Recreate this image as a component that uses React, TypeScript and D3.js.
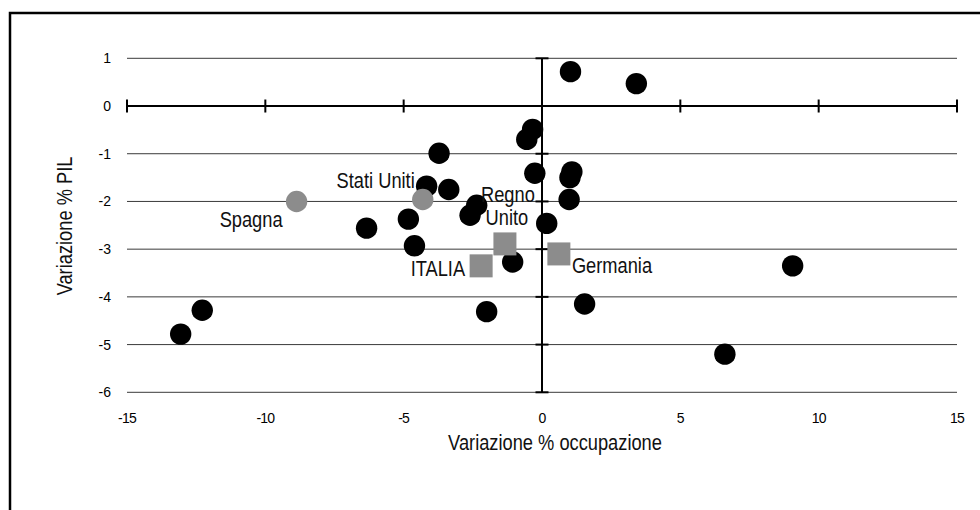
import React from "react";
import * as d3 from "d3";

// Data: variazione % occupazione (x) vs variazione % PIL (y)
const blackX = [1.03, 3.41, -0.34, -0.55, -3.72, -0.26, 1.08, 1.01, 0.98, -4.17, -3.37, -2.36, -2.6, -4.83, 0.17, -4.61, -1.06, -2.0, 1.54, -6.34, -12.28, -13.06, 9.06, 6.61];
const blackY = [0.72, 0.47, -0.49, -0.7, -0.99, -1.41, -1.38, -1.5, -1.96, -1.68, -1.75, -2.08, -2.29, -2.37, -2.46, -2.93, -3.27, -4.31, -4.15, -2.56, -4.28, -4.78, -3.35, -5.2];

const grayCircleNames = ["Spagna", "Stati Uniti"];
const grayCircleX = [-8.87, -4.31];
const grayCircleY = [-2.0, -1.96];

const squareNames = ["Regno Unito", "ITALIA", "Germania"];
const squareX = [-1.34, -2.2, 0.61];
const squareY = [-2.89, -3.35, -3.1];

const xTicks = [-15, -10, -5, 0, 5, 10, 15];
const yTicks = [1, 0, -1, -2, -3, -4, -5, -6];

const xTitle = "Variazione % occupazione";
const yTitle = "Variazione % PIL";

const W = 980;
const H = 510;
const SANS = '"Liberation Sans", Arial, sans-serif';
const GRAY = "#8c8c8c";

function NText(props: { x: number; y: number; anchor?: string; rotate?: number; children: React.ReactNode }) {
  const { x, y, anchor = "start", rotate = 0, children } = props;
  return (
    <text
      transform={`translate(${x},${y}) rotate(${rotate}) scale(0.85,1)`}
      textAnchor={anchor}
      fontFamily={SANS}
      fontSize={21.5}
      fill="#111"
    >
      {children}
    </text>
  );
}

export default function App() {
  const x = d3.scaleLinear().domain([-15, 15]).range([127, 957]);
  const y = d3.scaleLinear().domain([1, -6]).range([58.3, 392.3]);
  const r = 10.7;
  const sq = 23;

  // label placement (pixel offsets from their marker)
  const circleLabelPos = [
    { dx: -14, dy: 26, anchor: "end" },
    { dx: -8, dy: -12, anchor: "end" },
  ];

  return (
    <svg width={W} height={H} style={{ position: "absolute", left: 0, top: 0, background: "#fff" }}>
      <rect x={0} y={0} width={W} height={H} fill="#fff" />
      <rect x={10} y={13} width={1200} height={800} fill="none" stroke="#000" strokeWidth={2.5} />

      {/* gridlines */}
      {yTicks.filter((t) => t !== 0).map((t) => (
        <line key={"g" + t} x1={x(-15)} x2={x(15)} y1={y(t)} y2={y(t)} stroke="#3a3a3a" strokeWidth={1} />
      ))}

      {/* x axis */}
      <line x1={x(-15)} x2={x(15)} y1={y(0)} y2={y(0)} stroke="#000" strokeWidth={2} />
      {xTicks.map((t) => (
        <line key={"xt" + t} x1={x(t)} x2={x(t)} y1={y(0) - 6.5} y2={y(0) + 6.5} stroke="#000" strokeWidth={2} />
      ))}
      {/* y axis */}
      <line x1={x(0)} x2={x(0)} y1={y(1)} y2={y(-6)} stroke="#000" strokeWidth={2} />
      {yTicks.map((t) => (
        <line key={"yt" + t} x1={x(0) - 6.5} x2={x(0) + 6.5} y1={y(t)} y2={y(t)} stroke="#000" strokeWidth={2} />
      ))}

      {/* tick labels */}
      {yTicks.map((t) => (
        <text key={"yl" + t} x={111} y={y(t) + 5} textAnchor="end" fontFamily={SANS} fontSize={14} fill="#000">
          {t}
        </text>
      ))}
      {xTicks.map((t) => (
        <text key={"xl" + t} x={x(t)} y={423} textAnchor="middle" fontFamily={SANS} fontSize={14} letterSpacing={-0.8} fill="#000">
          {t}
        </text>
      ))}

      {/* axis titles */}
      <NText x={555} y={450} anchor="middle">{xTitle}</NText>
      <NText x={72} y={226} anchor="middle" rotate={-90}>{yTitle}</NText>

      {/* black points */}
      {blackX.map((v, i) => (
        <circle key={"b" + i} cx={x(v)} cy={y(blackY[i])} r={r} fill="#000" />
      ))}

      {/* gray circles */}
      {grayCircleX.map((v, i) => (
        <g key={"gc" + i}>
          <circle cx={x(v)} cy={y(grayCircleY[i])} r={r} fill={GRAY} />
          <NText x={x(v) + circleLabelPos[i].dx} y={y(grayCircleY[i]) + circleLabelPos[i].dy} anchor={circleLabelPos[i].anchor}>
            {grayCircleNames[i]}
          </NText>
        </g>
      ))}

      {/* squares */}
      {squareX.map((v, i) => (
        <rect key={"s" + i} x={x(v) - sq / 2} y={y(squareY[i]) - sq / 2} width={sq} height={sq} fill={GRAY} />
      ))}
      {/* square labels */}
      <NText x={x(squareX[0]) + 3} y={y(squareY[0]) - 42} anchor="middle">{squareNames[0].split(" ")[0]}</NText>
      <NText x={x(squareX[0]) + 2} y={y(squareY[0]) - 19} anchor="middle">{squareNames[0].split(" ")[1]}</NText>
      <NText x={x(squareX[1]) - 16} y={y(squareY[1]) + 10} anchor="end">{squareNames[1]}</NText>
      <NText x={x(squareX[2]) + 13} y={y(squareY[2]) + 19} anchor="start">{squareNames[2]}</NText>
    </svg>
  );
}
